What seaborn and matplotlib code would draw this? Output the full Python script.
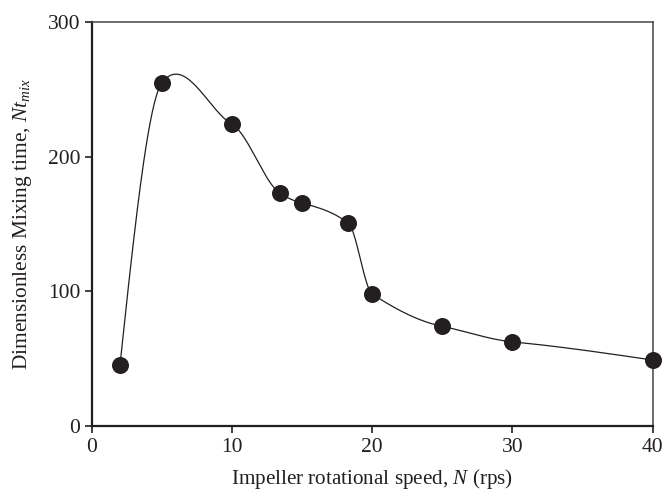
import numpy as np
import pandas as pd
import matplotlib
matplotlib.use("Agg")
import matplotlib.pyplot as plt
import seaborn as sns

# 데이터
speed = [2, 5, 10, 13.4, 15, 18.3, 20, 25, 30, 40]
mix_time = [45, 255, 224, 173, 165.5, 150.5, 98, 74, 62.5, 49]

sns.set_style("ticks")
plt.rcParams['font.family'] = ['Liberation Serif', 'DejaVu Serif']
plt.rcParams['mathtext.fontset'] = 'custom'
plt.rcParams['mathtext.rm'] = 'Liberation Serif'
plt.rcParams['mathtext.it'] = 'Liberation Serif:italic'

ink = '#231f20'


def cardinal_spline(x, y, tension=0.4, n=40):
    """cardinal 스플라인 (Hermite), 양 끝은 2차 미분 0"""
    x = np.asarray(x, float)
    y = np.asarray(y, float)
    m = len(x)
    tan = np.zeros(m)
    for i in range(1, m - 1):
        tan[i] = (1 - tension) * (y[i + 1] - y[i - 1]) / (x[i + 1] - x[i - 1])
    s0 = (y[1] - y[0]) / (x[1] - x[0])
    s1 = (y[-1] - y[-2]) / (x[-1] - x[-2])
    tan[0] = (3 * s0 - tan[1]) / 2
    tan[-1] = (3 * s1 - tan[-2]) / 2
    xs_all, ys_all = [], []
    for i in range(m - 1):
        h = x[i + 1] - x[i]
        t = np.linspace(0, 1, n)
        h00 = 2 * t**3 - 3 * t**2 + 1
        h10 = t**3 - 2 * t**2 + t
        h01 = -2 * t**3 + 3 * t**2
        h11 = t**3 - t**2
        xs_all.append(x[i] + t * h)
        ys_all.append(h00 * y[i] + h10 * h * tan[i] + h01 * y[i + 1] + h11 * h * tan[i + 1])
    return np.concatenate(xs_all), np.concatenate(ys_all)


df = pd.DataFrame({'N': speed, 'Nt': mix_time})
xs, ys = cardinal_spline(speed, mix_time)
curve = pd.DataFrame({'N': xs, 'Nt': ys})

fig = plt.figure(figsize=(6.66, 4.90), dpi=100)
ax = fig.add_axes([0.138, 0.1306, 0.842, 0.8244])

sns.lineplot(data=curve, x='N', y='Nt', ax=ax, color=ink, linewidth=0.9, sort=False,
             estimator=None)
sns.scatterplot(data=df, x='N', y='Nt', ax=ax, color=ink, s=150, edgecolor=ink,
                linewidth=0, zorder=3, clip_on=False)

ax.set_xlim(0, 40)
ax.set_ylim(0, 300)
ax.set_xticks([0, 10, 20, 30, 40])
ax.set_yticks([0, 100, 200, 300])
ax.tick_params(axis='both', direction='out', length=5, width=1.2, colors=ink,
               labelsize=15.5, labelcolor=ink)

for side in ['bottom', 'left']:
    ax.spines[side].set_linewidth(1.6)
    ax.spines[side].set_color(ink)
for side in ['top', 'right']:
    ax.spines[side].set_visible(True)
    ax.spines[side].set_linewidth(1.1)
    ax.spines[side].set_color('#444444')

ax.set_xlabel('Impeller rotational speed, $\\mathit{N}$ (rps)', fontsize=15.2, color=ink, labelpad=7)
ax.set_ylabel('Dimensionless Mixing time, $\\mathit{Nt_{mix}}$', fontsize=15.4, color=ink, labelpad=10)

plt.savefig('out.png', dpi=100)
plt.close()
